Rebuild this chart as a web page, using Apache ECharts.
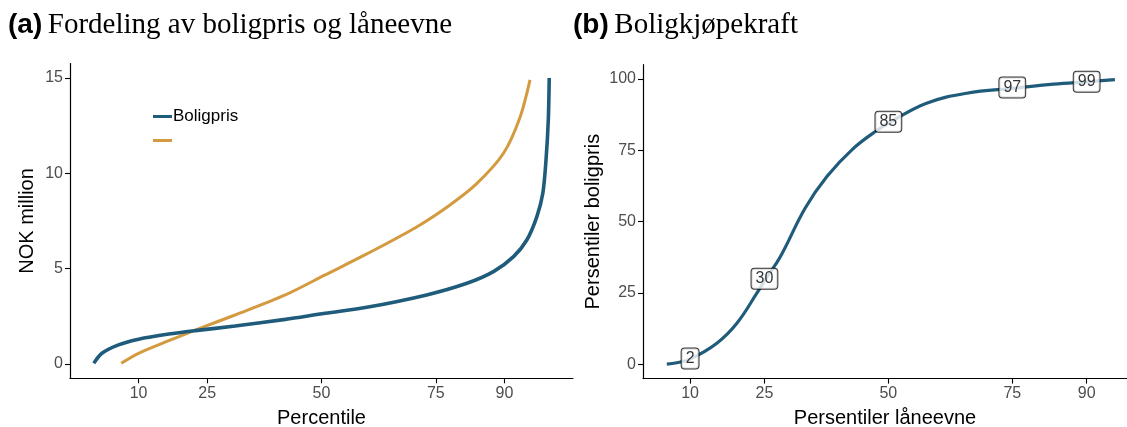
<!DOCTYPE html>
<html>
<head>
<meta charset="utf-8">
<script src="https://cdn.jsdelivr.net/npm/echarts@6/dist/echarts.min.js"></script>
<style>
html,body{margin:0;padding:0;background:#fff;}
#c{width:1127px;height:427px;}
</style>
</head>
<body>
<div id="c"></div>
<script>
// Panel (a): percentile vs NOK million
const boligPct = [0.2, 2.0, 5.6, 10.0, 16.6, 22.4, 31.1, 42.1, 50.8, 59.9, 73.0, 81.8, 87.6, 92.0, 94.9, 97.1, 98.4, 99.1, 99.6, 99.8];
const boligVal = [0.04, 0.56, 1.0, 1.30, 1.57, 1.75, 1.99, 2.34, 2.66, 2.97, 3.62, 4.23, 4.84, 5.63, 6.5, 7.73, 8.95, 10.7, 12.8, 15.0];
const laanPct = [6.2, 10.0, 16.6, 22.4, 31.1, 42.1, 50.8, 59.9, 70.9, 78.1, 84.0, 89.8, 93.4, 95.6];
const laanVal = [0.04, 0.56, 1.22, 1.78, 2.57, 3.62, 4.67, 5.77, 7.2, 8.34, 9.47, 11.05, 12.93, 14.9];
// Panel (b): percentile of borrowing capacity vs percentile of house price
const kjopX = [5.3, 7.3, 10.1, 15.4, 19.4, 23.5, 25.3, 28.2, 33.2, 37.6, 42.9, 47.8, 50.5, 57.7, 65.8, 75.6, 83.3, 90.7, 95.7];
const kjopY = [0.1, 0.56, 1.9, 7.4, 14.3, 25.0, 30.0, 37.7, 54.7, 65.8, 75.6, 82.1, 85.0, 91.5, 95.0, 96.8, 98.2, 99.1, 99.8];
const labelX = [10, 25, 50, 75, 90];
const labelY = [2, 30, 85, 97, 99];
// Tick labels
const xTicks = [10, 25, 50, 75, 90];
const yTicksA = [0, 5, 10, 15];
const yTicksB = [0, 25, 50, 75, 100];

const BLUE = '#1f5b7a';
const ORANGE = '#d49a3f';
const sans = 'Liberation Sans, Arial, sans-serif';
const zip = (a, b) => a.map((v, i) => [v, b[i]]);

const axisCommon = {
  axisLine: {show: true, onZero: false, lineStyle: {color: '#000', width: 1.2}},
  axisTick: {show: true, length: 5, lineStyle: {color: '#000', width: 1.1}},
  axisLabel: {color: '#4d4d4d', fontSize: 16, fontFamily: sans, margin: 7},
  splitLine: {show: false},
  nameTextStyle: {color: '#000', fontSize: 20, fontFamily: sans}
};
function ax(extra, ticks) {
  const o = JSON.parse(JSON.stringify(axisCommon));
  o.axisTick.customValues = ticks;
  o.axisLabel.customValues = ticks;
  return Object.assign(o, extra);
}
const titleRich = {
  b: {fontFamily: sans, fontWeight: 'bold', fontSize: 28, color: '#000'},
  s: {fontFamily: 'Liberation Serif, serif', fontWeight: 'normal', fontSize: 29, color: '#000'}
};

const chart = echarts.init(document.getElementById('c'), null, {renderer: 'canvas'});
chart.setOption({
  animation: false,
  backgroundColor: '#fff',
  title: [
    {left: 8, top: 11, padding: 0, text: '{b|(a)} {s|Fordeling av boligpris og låneevne}',
     textStyle: {fontWeight: 'normal', fontSize: 20, rich: titleRich}},
    {left: 573, top: 11, padding: 0, text: '{b|(b)} {s|Boligkjøpekraft}',
     textStyle: {fontWeight: 'normal', fontSize: 20, rich: titleRich}}
  ],
  legend: {
    orient: 'vertical', left: 153, top: 108, itemGap: 14, padding: 0,
    icon: 'rect', itemWidth: 19, itemHeight: 3,
    textStyle: {fontFamily: sans, fontSize: 17, color: '#000', padding: [0, 0, 0, -4]},
    formatter: n => n === 'Boligpris' ? n : '',
    data: ['Boligpris', 'Låneevne']
  },
  grid: [
    {left: 70, right: 554, top: 63.6, bottom: 48.7, outerBoundsMode: 'none', containLabel: false},
    {left: 643, right: 0, top: 64.7, bottom: 48.4, outerBoundsMode: 'none', containLabel: false}
  ],
  xAxis: [
    ax({gridIndex: 0, type: 'value', min: -5, max: 105, name: 'Percentile', nameLocation: 'middle', nameGap: 30}, xTicks),
    ax({gridIndex: 1, type: 'value', min: 0.5, max: 98.14, name: 'Persentiler låneevne', nameLocation: 'middle', nameGap: 30}, xTicks)
  ],
  yAxis: [
    ax({gridIndex: 0, type: 'value', min: -0.75, max: 15.75, name: 'NOK million', nameLocation: 'middle', nameGap: 33}, yTicksA),
    ax({gridIndex: 1, type: 'value', min: -5, max: 105, name: 'Persentiler boligpris', nameLocation: 'middle', nameGap: 40}, yTicksB)
  ],
  series: [
    {name: 'Boligpris', type: 'line', xAxisIndex: 0, yAxisIndex: 0, data: zip(boligPct, boligVal),
     showSymbol: false, smooth: 0.3, lineStyle: {color: BLUE, width: 3.6}, itemStyle: {color: BLUE}, z: 3},
    {name: 'Låneevne', type: 'line', xAxisIndex: 0, yAxisIndex: 0, data: zip(laanPct, laanVal),
     showSymbol: false, smooth: 0.3, lineStyle: {color: ORANGE, width: 3}, itemStyle: {color: ORANGE}, z: 2},
    {name: 'Kjøpekraft', type: 'line', xAxisIndex: 1, yAxisIndex: 1, data: zip(kjopX, kjopY),
     showSymbol: false, smooth: 0.4, lineStyle: {color: BLUE, width: 3.2}, itemStyle: {color: BLUE}},
    {name: 'Etiketter', type: 'scatter', xAxisIndex: 1, yAxisIndex: 1, data: zip(labelX, labelY),
     symbolSize: 0, z: 5, silent: true,
     label: {show: true, position: 'inside', formatter: p => String(p.value[1]),
       fontFamily: sans, fontSize: 16, lineHeight: 17, color: '#000', backgroundColor: '#fff',
       borderColor: '#000', borderWidth: 1, borderRadius: 3, padding: [2, 4, 1, 4]}}
  ]
});
</script>
</body>
</html>
